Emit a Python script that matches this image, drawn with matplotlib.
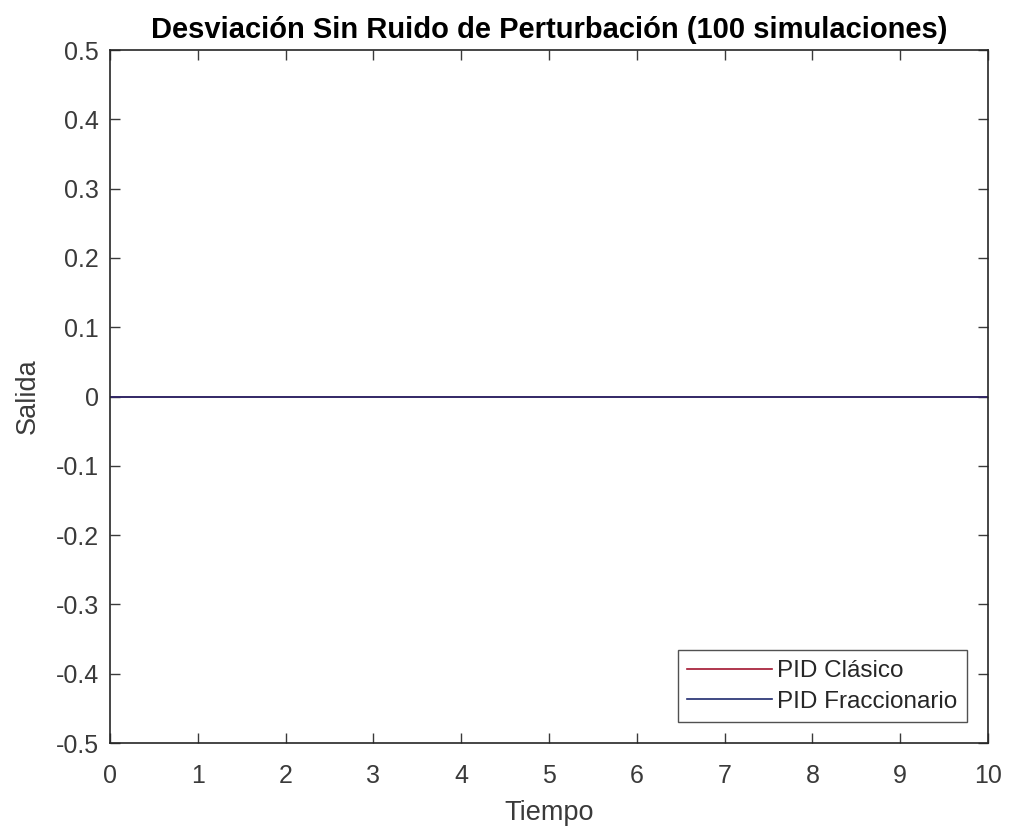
import matplotlib
matplotlib.use("Agg")
import matplotlib.pyplot as plt

# Simulation output (deviation) for each controller
tiempo = [0, 1, 2, 3, 4, 5, 6, 7, 8, 9, 10]
salida_pid_clasico = [0, 0, 0, 0, 0, 0, 0, 0, 0, 0, 0]
salida_pid_fraccionario = [0, 0, 0, 0, 0, 0, 0, 0, 0, 0, 0]

x_ticks = [0, 1, 2, 3, 4, 5, 6, 7, 8, 9, 10]
y_ticks = [-0.5, -0.4, -0.3, -0.2, -0.1, 0, 0.1, 0.2, 0.3, 0.4, 0.5]
y_tick_labels = ["-0.5", "-0.4", "-0.3", "-0.2", "-0.1", "0",
                 "0.1", "0.2", "0.3", "0.4", "0.5"]

plt.rcParams["font.family"] = ["Liberation Sans", "DejaVu Sans"]
ink = "#3a3a3a"

fig = plt.figure(figsize=(10.1, 8.34), dpi=100)
ax = fig.add_axes([0.1089, 0.109, 0.8693, 0.831])

ax.plot(tiempo, salida_pid_clasico, color="#a2142f", lw=1.2, label="PID Clásico")
ax.plot(tiempo, salida_pid_fraccionario, color="#1f2a6e", lw=1.2, label="PID Fraccionario")

ax.set_xlim(0, 10)
ax.set_ylim(-0.5, 0.5)
ax.set_xticks(x_ticks)
ax.set_yticks(y_ticks)
ax.set_yticklabels(y_tick_labels)

ax.tick_params(direction="in", length=7, width=1, colors=ink,
               top=True, right=True, labelsize=18)
ax.tick_params(axis="x", pad=15)
ax.tick_params(axis="y", pad=8)
for s in ax.spines.values():
    s.set_color("#262626")
    s.set_linewidth(1.2)

ax.set_title("Desviación Sin Ruido de Perturbación (100 simulaciones)",
             fontsize=21, fontweight="bold", color="black", pad=9)
ax.set_xlabel("Tiempo", fontsize=19.5, color=ink, labelpad=9)
ax.set_ylabel("Salida", fontsize=19.5, color=ink, labelpad=11)

leg = ax.legend(loc="lower right", fontsize=17.5, frameon=True, fancybox=False,
                edgecolor="#262626", handlelength=3.5, handletextpad=0.2,
                borderpad=0.4, labelspacing=0.35, borderaxespad=0.85)
leg.get_frame().set_linewidth(1.0)
for t in leg.get_texts():
    t.set_color("#262626")

fig.savefig("out.png", dpi=100, facecolor="white")
